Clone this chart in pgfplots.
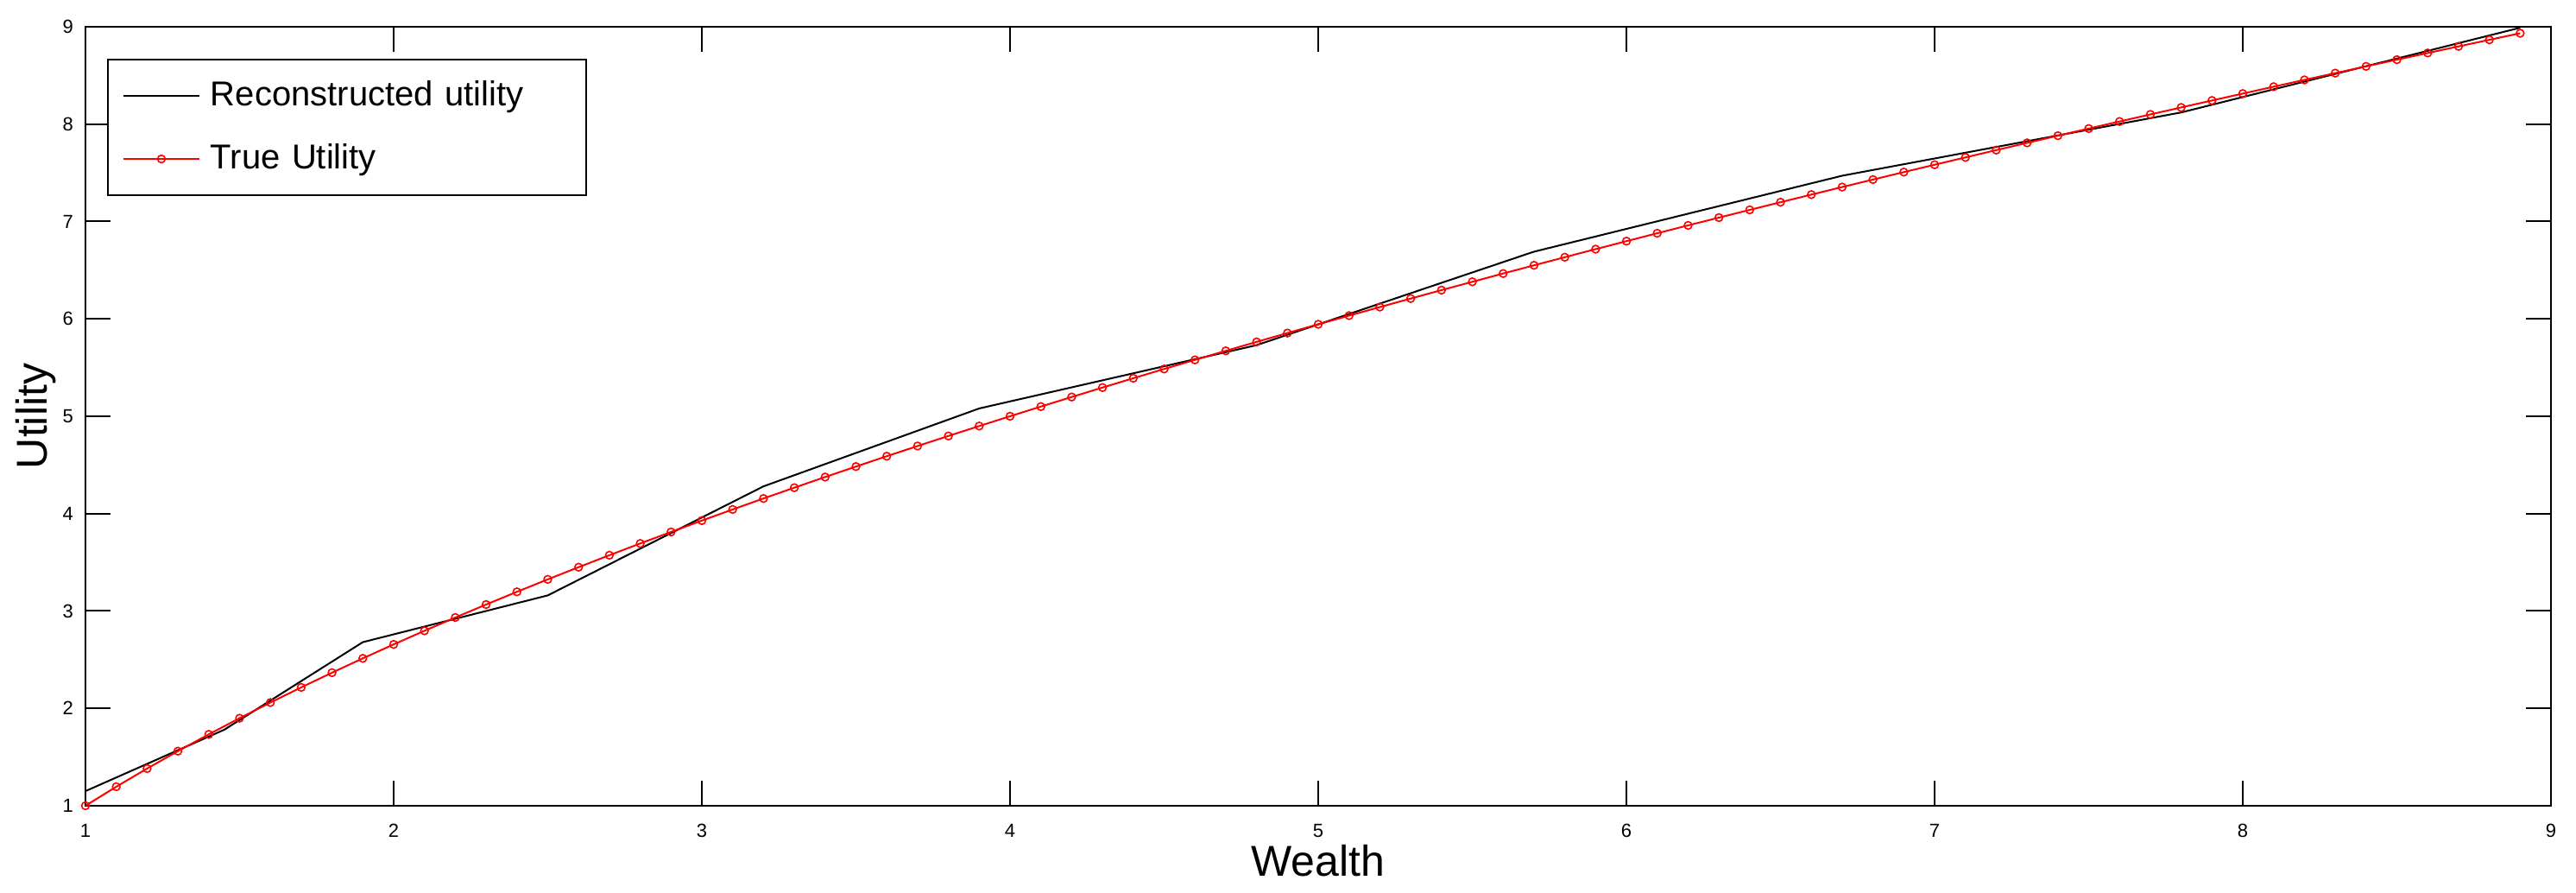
\documentclass[border=0pt]{standalone}
\usepackage{pgfplots}
\pgfplotsset{compat=1.18}
\usepackage{fontspec}
\setmainfont{Liberation Sans}
\begin{document}
\begin{tikzpicture}
\begin{axis}[
  scale only axis,
  width=714pt, height=225.5pt,
  xmin=1, xmax=9, ymin=1, ymax=9,
  xtick={1,2,...,9}, ytick={1,2,...,9},
  tick align=inside, xtick pos=both, ytick pos=both,
  major tick length=7.25pt,
  axis line style={line width=0.5pt},
  every tick/.style={black, line width=0.5pt},
  /pgf/number format/assume math mode=true,
  ticklabel style={font=\fontsize{5.5}{6}\selectfont},
  xticklabel style={yshift=-1.7pt},
  xlabel={Wealth}, ylabel={Utility},
  xlabel style={font=\fontsize{12.5}{14}\selectfont, at={(axis description cs:0.5,-0.0488)}, anchor=north, inner sep=0pt},
  ylabel style={font=\fontsize{12.5}{14}\selectfont, at={(axis description cs:-0.0287,0.5)}, anchor=north, inner sep=0pt},
  legend cell align=left,
  legend image code/.code={%
    \draw[mark repeat=2,mark phase=2,#1] plot coordinates {(0pt,0pt)(11pt,0pt)(22pt,0pt)};},
  legend style={at={(0.00875,0.959)}, anchor=north west, draw=black, line width=0.5pt,
    font=\fontsize{10}{12}\selectfont, inner xsep=4.25pt, inner ysep=1.4pt, row sep=0pt,
    nodes={inner sep=0pt, minimum height=18.25pt},
    /tikz/every odd column/.append style={column sep=3pt},
    /tikz/every even column/.append style={text width=104.5pt}},
]
\addplot[black, line width=0.5pt] coordinates {
(1.0,1.15)(1.45,1.78)(1.9,2.68)(2.5,3.16)(3.2,4.28)(3.9,5.08)(4.8,5.73)(5.7,6.69)(6.7,7.47)(7.8,8.12)(8.9,8.99)
};
\addlegendentry{Reconstructed utility}
\addplot[red, line width=0.5pt, mark=o, mark size=1.1pt, mark options={line width=0.4pt}] coordinates {
(1.0,1.0000)(1.1,1.1952)(1.2,1.3818)(1.3,1.5607)(1.4,1.7329)(1.5,1.8990)(1.6,2.0596)(1.7,2.2154)(1.8,2.3666)(1.9,2.5136)
(2.0,2.6569)(2.1,2.7966)(2.2,2.9330)(2.3,3.0663)(2.4,3.1968)(2.5,3.3246)(2.6,3.4498)(2.7,3.5727)(2.8,3.6933)(2.9,3.8118)
(3.0,3.9282)(3.1,4.0427)(3.2,4.1554)(3.3,4.2664)(3.4,4.3756)(3.5,4.4833)(3.6,4.5895)(3.7,4.6942)(3.8,4.7974)(3.9,4.8994)
(4.0,5.0000)(4.1,5.0994)(4.2,5.1976)(4.3,5.2946)(4.4,5.3905)(4.5,5.4853)(4.6,5.5790)(4.7,5.6718)(4.8,5.7636)(4.9,5.8544)
(5.0,5.9443)(5.1,6.0333)(5.2,6.1214)(5.3,6.2087)(5.4,6.2952)(5.5,6.3808)(5.6,6.4657)(5.7,6.5499)(5.8,6.6333)(5.9,6.7160)
(6.0,6.7980)(6.1,6.8793)(6.2,6.9599)(6.3,7.0399)(6.4,7.1193)(6.5,7.1980)(6.6,7.2762)(6.7,7.3538)(6.8,7.4307)(6.9,7.5072)
(7.0,7.5830)(7.1,7.6583)(7.2,7.7331)(7.3,7.8074)(7.4,7.8812)(7.5,7.9544)(7.6,8.0272)(7.7,8.0996)(7.8,8.1714)(7.9,8.2428)
(8.0,8.3137)(8.1,8.3842)(8.2,8.4542)(8.3,8.5239)(8.4,8.5931)(8.5,8.6619)(8.6,8.7303)(8.7,8.7983)(8.8,8.8659)(8.9,8.9332)
};
\addlegendentry{True Utility}
\end{axis}
\pgfresetboundingbox
\useasboundingbox ([shift={(-24.75pt,-25.25pt)}]current axis.south west) rectangle ([shift={(7.25pt,7.75pt)}]current axis.north east);
\end{tikzpicture}
\end{document}
